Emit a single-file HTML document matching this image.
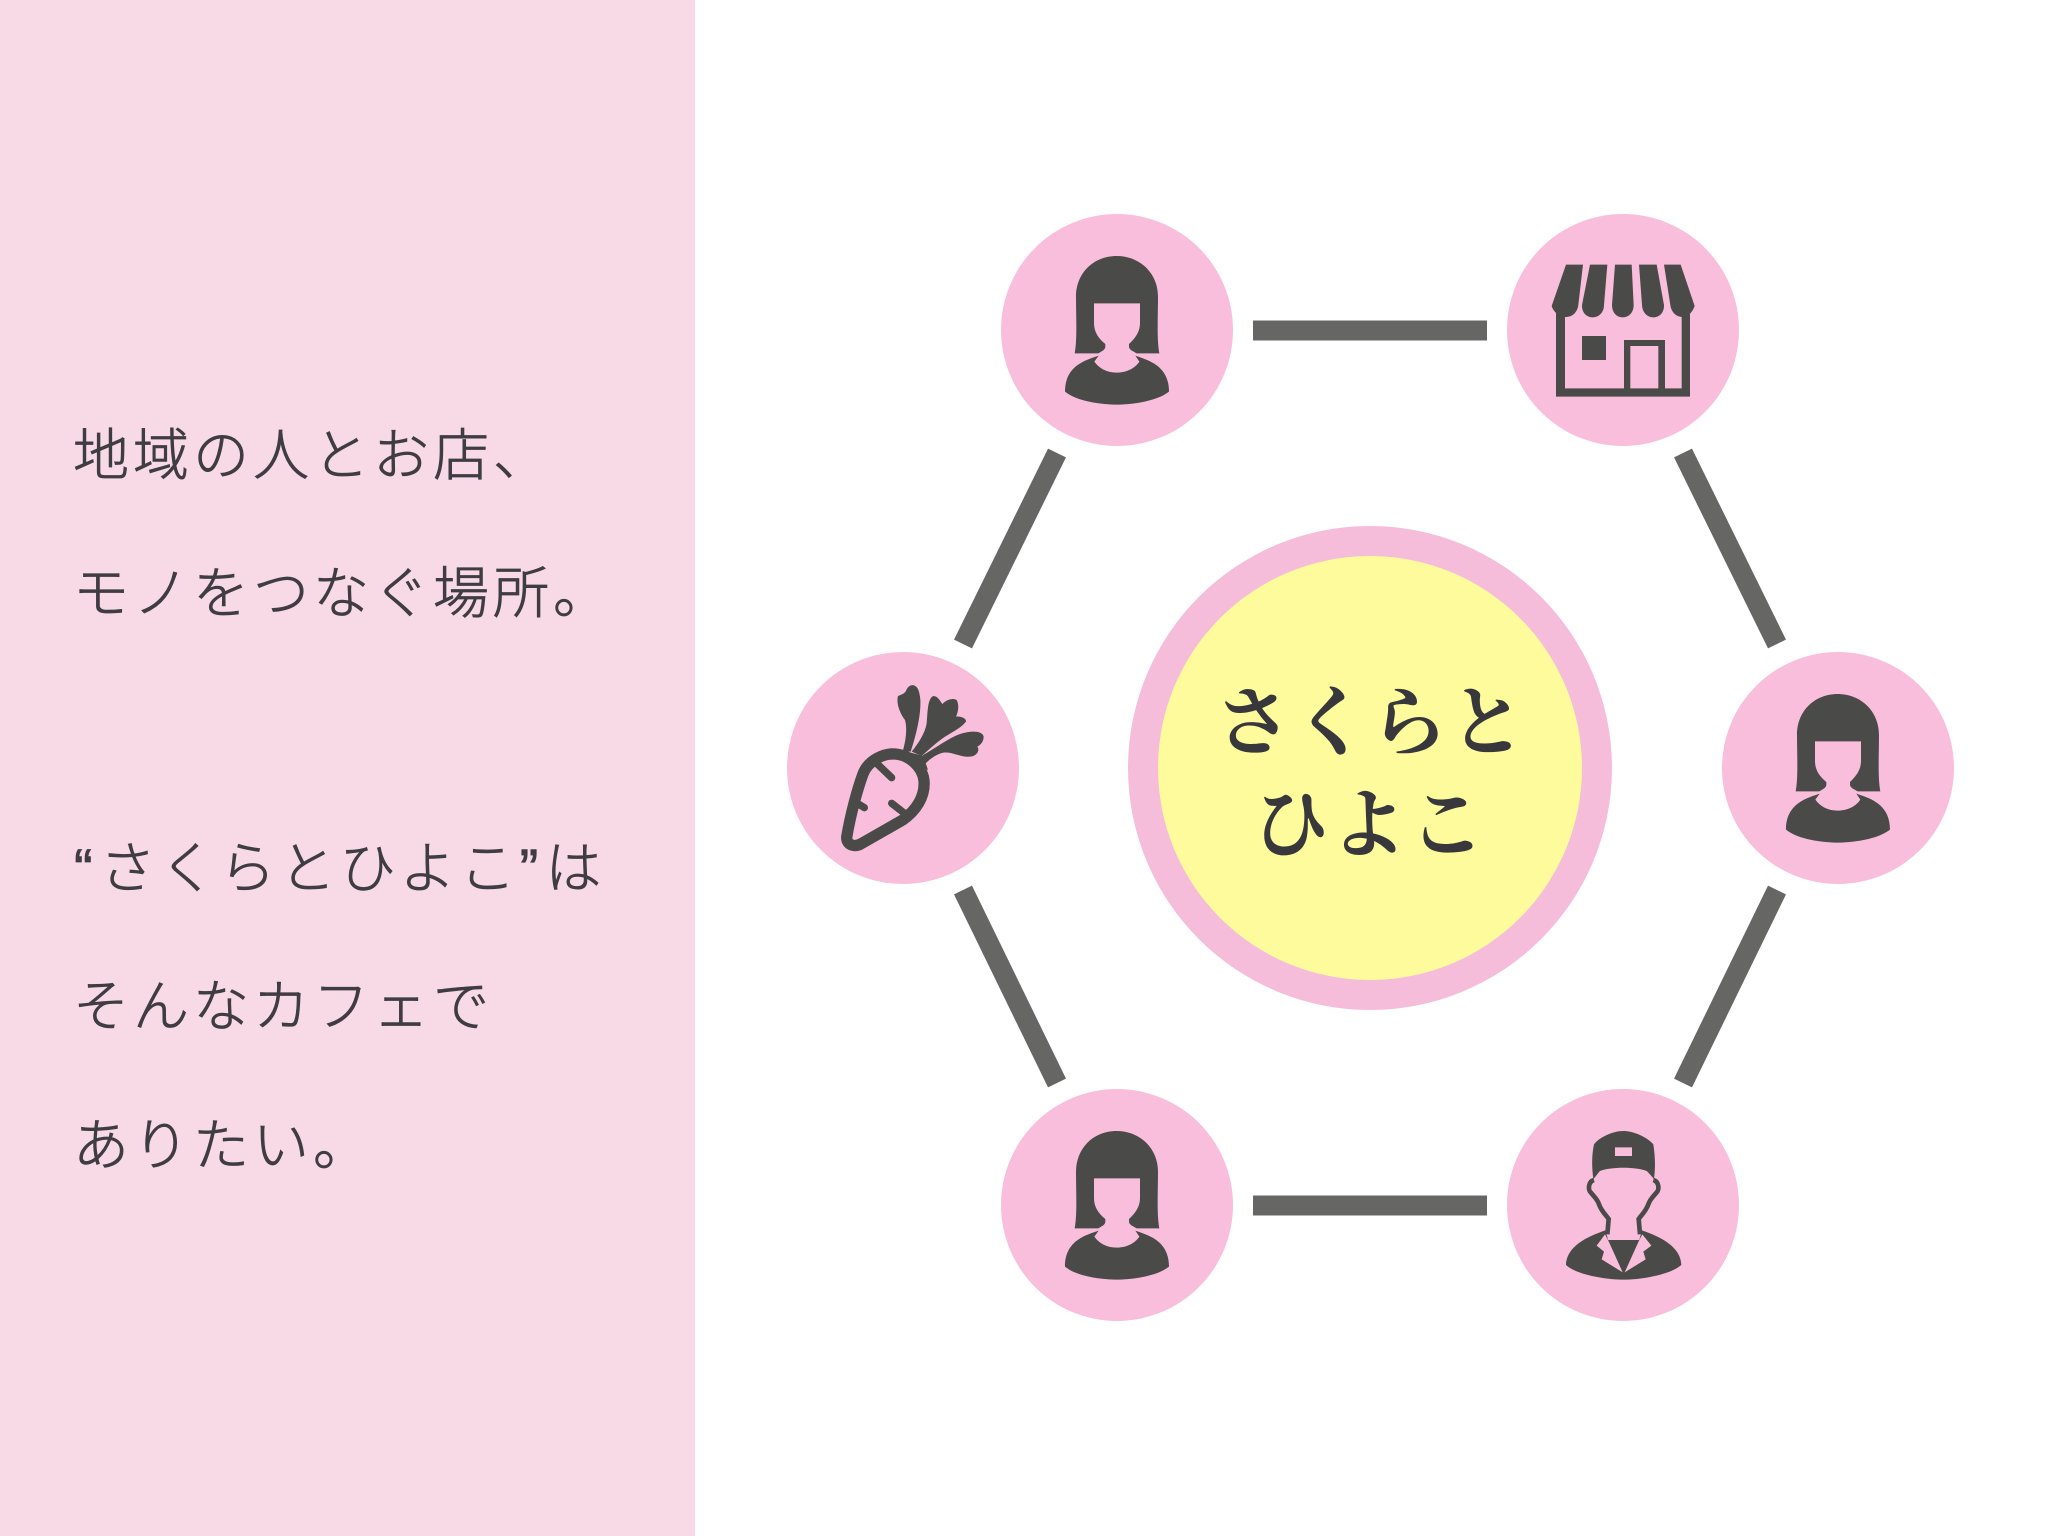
<!DOCTYPE html>
<html lang="ja"><head><meta charset="utf-8"><title>さくらとひよこ</title>
<style>
html,body{margin:0;padding:0;background:#fff;width:2048px;height:1536px;overflow:hidden}
svg{display:block}
.t{font-family:"Liberation Sans","Noto Sans CJK JP",sans-serif;font-size:56px;font-weight:300;fill:#3f3c43;stroke:#3f3c43;stroke-width:.8px;letter-spacing:4px}
.h{font-family:"Noto Serif CJK SC","Noto Serif CJK JP",serif;font-size:76px;font-weight:700;fill:#38373c;letter-spacing:2px;text-anchor:middle}
</style></head><body>
<svg width="2048" height="1536" viewBox="0 0 2048 1536" xmlns="http://www.w3.org/2000/svg">
<defs>
<g id="woman" fill="#4a4b49">
<path d="M410 198C340 198 288 250 288 320C288 380 292 450 284 490L355 490C365 484 376 480 376 470L376 462C355 445 342 425 342 400L342 340L480 340L480 400C480 425 465 445 447 462L447 470C447 480 460 484 470 490L538 490C530 450 534 380 534 320C534 250 480 198 410 198Z"/>
<path d="M356 497C320 510 255 525 255 605C290 635 370 644 410 644C450 644 530 635 567 605C567 525 502 510 466 497L478 515C465 535 440 548 410 548C380 548 357 535 343 515Z"/>
</g>
</defs>
<rect width="2048" height="1536" fill="#fff"/>
<rect width="695" height="1536" fill="#f7dae6"/>

<text class="t" x="73" y="475">地域の人とお店、</text>
<text class="t" x="73" y="613">モノをつなぐ場所。</text>
<text class="t" x="74" y="888">“<tspan dx="3">さくらとひよこ</tspan>”<tspan dx="3">は</tspan></text>
<text class="t" x="73" y="1026">そんなカフェで</text>
<text class="t" x="73" y="1165">ありたい。</text>

<g stroke="#666765" stroke-width="20" fill="none">
<line x1="1253" y1="330.500" x2="1487" y2="330.500"/>
<line x1="1253" y1="1205.500" x2="1487" y2="1205.500"/>
<line x1="1057" y1="453" x2="963" y2="644"/>
<line x1="963" y1="890" x2="1057" y2="1083"/>
<line x1="1683" y1="453" x2="1777" y2="644"/>
<line x1="1777" y1="890" x2="1683" y2="1083"/>
</g>

<circle cx="1370" cy="768" r="242" fill="#f6bddb"/>
<circle cx="1370" cy="768" r="212" fill="#fdfb9b"/>
<text class="h" x="1371" y="749">さくらと</text>
<text class="h" x="1370" y="851">ひよこ</text>

<g fill="#f9bedb">
<circle cx="1117" cy="330" r="116"/>
<circle cx="1623" cy="330" r="116"/>
<circle cx="903" cy="768" r="116"/>
<circle cx="1838" cy="768" r="116"/>
<circle cx="1117" cy="1205" r="116"/>
<circle cx="1623" cy="1205" r="116"/>
</g>

<g transform="translate(980 190) scale(.33333)"><use href="#woman"/></g>
<g transform="translate(1701 628) scale(.33333)"><use href="#woman"/></g>
<g transform="translate(980 1065) scale(.33333)"><use href="#woman"/></g>

<!-- store -->
<g transform="translate(1490 190) scale(.33333)" fill="#4a4b49">
<path d="M228 224L279 224L265 345C262 368 246 381 228 381C207 381 190 365 185 348Z"/>
<path d="M300 224L352 224L342 345C342 368 326 382 308 382C290 382 275 368 276 345Z"/>
<path d="M375 224L425 224L431 345C431 368 416 382 398 382C380 382 366 368 366 345Z"/>
<path d="M447 224L500 224L522 345C523 368 508 382 490 382C472 382 457 368 456 345Z"/>
<path d="M522 224L572 224L614 348C608 365 595 381 578 381C560 381 544 368 541 345Z"/>
<path fill-rule="evenodd" d="M198 365L225 365L225 595L402 595L402 450L525 450L525 595L575 595L575 365L600 365L600 620L198 620ZM421 468L421 595L505 595L505 468Z"/>
<rect x="276" y="438" width="72" height="72"/>
</g>

<!-- carrot -->
<g transform="translate(770 630) scale(.33333)">
<g fill="none" stroke="#4a4b49" stroke-linecap="round" stroke-linejoin="round">
<path stroke-width="34" d="M230 622C230 645 252 652 272 642L398 570C438 542 466 500 462 452C458 412 420 375 375 372C340 369 294 392 279 432C264 472 242 550 230 622Z"/>
<path stroke-width="22" d="M320 400L365 443M262 520L283 533M365 520L410 555"/>
</g>
<g fill="#4a4b49">
<path d="M375 355L460 378L474 420L420 395Z"/>
<path d="M398 365C408 330 412 295 405 270C390 250 378 220 384 198C394 193 405 192 410 178C420 158 445 160 449 195C456 225 447 290 422 365Z"/>
<path d="M425 365C445 340 465 310 470 280C473 250 472 205 490 198C503 198 510 212 517 222C530 208 550 203 560 210C568 225 565 245 558 260C572 258 590 265 588 275C570 298 535 312 515 327C495 342 475 360 455 378Z"/>
<path d="M462 385L458 376C490 358 540 322 570 312C600 303 636 300 641 320C641 335 632 345 622 350C630 360 622 378 600 380C570 382 545 364 520 368C500 372 480 387 465 402Z"/>
</g>
</g>

<!-- technician -->
<g transform="translate(1490 1075) scale(.33333)">
<g fill="#4a4b49">
<path fill-rule="evenodd" d="M400 168C370 168 330 185 312 208C305 240 305 275 310 312C320 302 325 292 330 288C360 275 440 275 470 288C475 292 483 302 492 312C497 275 495 240 490 208C470 185 430 168 400 168ZM375 217L426 217L426 243L375 243Z"/>
<path d="M346 466C300 482 230 510 228 570C260 600 350 614 401 614C450 614 540 600 574 570C572 510 500 482 456 466L447 497L355 497Z"/>
<path d="M353 495L449 495L401 590Z"/>
</g>
<g fill="#f9bedb">
<path d="M345 478L320 512L342 530L335 553L398 592L355 497Z"/>
<path d="M457 478L484 512L460 530L467 553L404 592L447 497Z"/>
</g>
<g fill="none" stroke="#4a4b49" stroke-width="14">
<path d="M312 315C294 320 294 345 302 352C312 365 322 372 327 388C335 410 348 420 356 432L352 478"/>
<path d="M490 315C508 320 508 345 500 352C490 365 480 372 475 388C467 410 454 420 446 432L450 478"/>
</g>
</g>
</svg>
</body></html>
